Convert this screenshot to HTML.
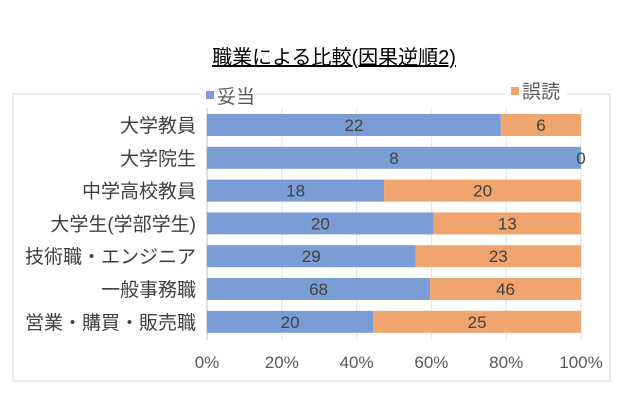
<!DOCTYPE html>
<html><head><meta charset="utf-8"><style>
body{margin:0;background:#fff;width:635px;height:401px;overflow:hidden}
text{font-family:"Liberation Sans","Noto Sans CJK JP",sans-serif}
</style></head><body>
<svg id="chart" width="635" height="401" xmlns="http://www.w3.org/2000/svg">
<text x="334" y="64" text-anchor="middle" font-size="20" fill="#000" text-decoration="underline">職業による比較(因果逆順2)</text>
<g stroke="#d9d9d9" fill="none">
<path d="M200 94 H13 V381 H610 V94 H567"/>
<line x1="254" y1="94" x2="505" y2="94"/>
</g>
<rect x="206" y="91" width="8" height="8" fill="#7a9dd6"/>
<text x="217" y="103" font-size="19" fill="#595959">妥当</text>
<rect x="511" y="87" width="8" height="8" fill="#f0a46e"/>
<text x="522" y="98" font-size="19" fill="#595959">誤読</text>
<g id="grid"></g><g id="bars"></g><g id="labels"></g>
</svg>
<script>
const categories=["大学教員","大学院生","中学高校教員","大学生(学部学生)","技術職・エンジニア","一般事務職","営業・購買・販売職"];
const validValues=[22,8,18,20,29,68,20];
const misreadValues=[6,0,20,13,23,46,25];
const tickLabels=["0%","20%","40%","60%","80%","100%"];
const NS="http://www.w3.org/2000/svg";
const X0=207,X1=581,Y0=125,STEP=32.8,BH=22;
const xs=p=>X0+(X1-X0)*p;
const ys=i=>Y0+i*STEP;
function mk(tag,attrs,parent,txt){const e=document.createElementNS(NS,tag);for(const k in attrs)e.setAttribute(k,attrs[k]);if(txt!==undefined)e.textContent=txt;document.getElementById(parent).appendChild(e);return e;}
tickLabels.forEach((t,i)=>{
 const p=i/(tickLabels.length-1);
 const l=mk('line',{x1:xs(p),x2:xs(p),y1:108,y2:340,stroke:i==0?'#bfbfbf':'#e3e3e3'},'grid');
 
 
 const tx=mk('text',{x:xs(p),y:368,'text-anchor':'middle','font-size':17,fill:'#595959'},'labels',t);
 
 
});
categories.forEach((c,i)=>{
 const tot=validValues[i]+misreadValues[i];
 const pv=validValues[i]/tot;
 const y=ys(i);
 const b1=mk('rect',{x:xs(0),y:y-BH/2,width:xs(pv)-xs(0),height:BH,fill:'#7a9dd6'},'bars');
 
 
 const b2=mk('rect',{x:xs(pv),y:y-BH/2,width:xs(1)-xs(pv),height:BH,fill:'#f0a46e'},'bars');
 
 
 const cl=mk('text',{x:196,y:y+7,'text-anchor':'end','font-size':19,fill:'#404040'},'labels',c);
 
 
 const v1=mk('text',{x:(xs(0)+xs(pv))/2,y:y+6,'text-anchor':'middle','font-size':17,fill:'#404040'},'labels',validValues[i]);
 
 
 const v2=mk('text',{x:(xs(pv)+xs(1))/2,y:y+6,'text-anchor':'middle','font-size':17,fill:'#404040'},'labels',misreadValues[i]);
 
 
});
</script>
</body></html>
